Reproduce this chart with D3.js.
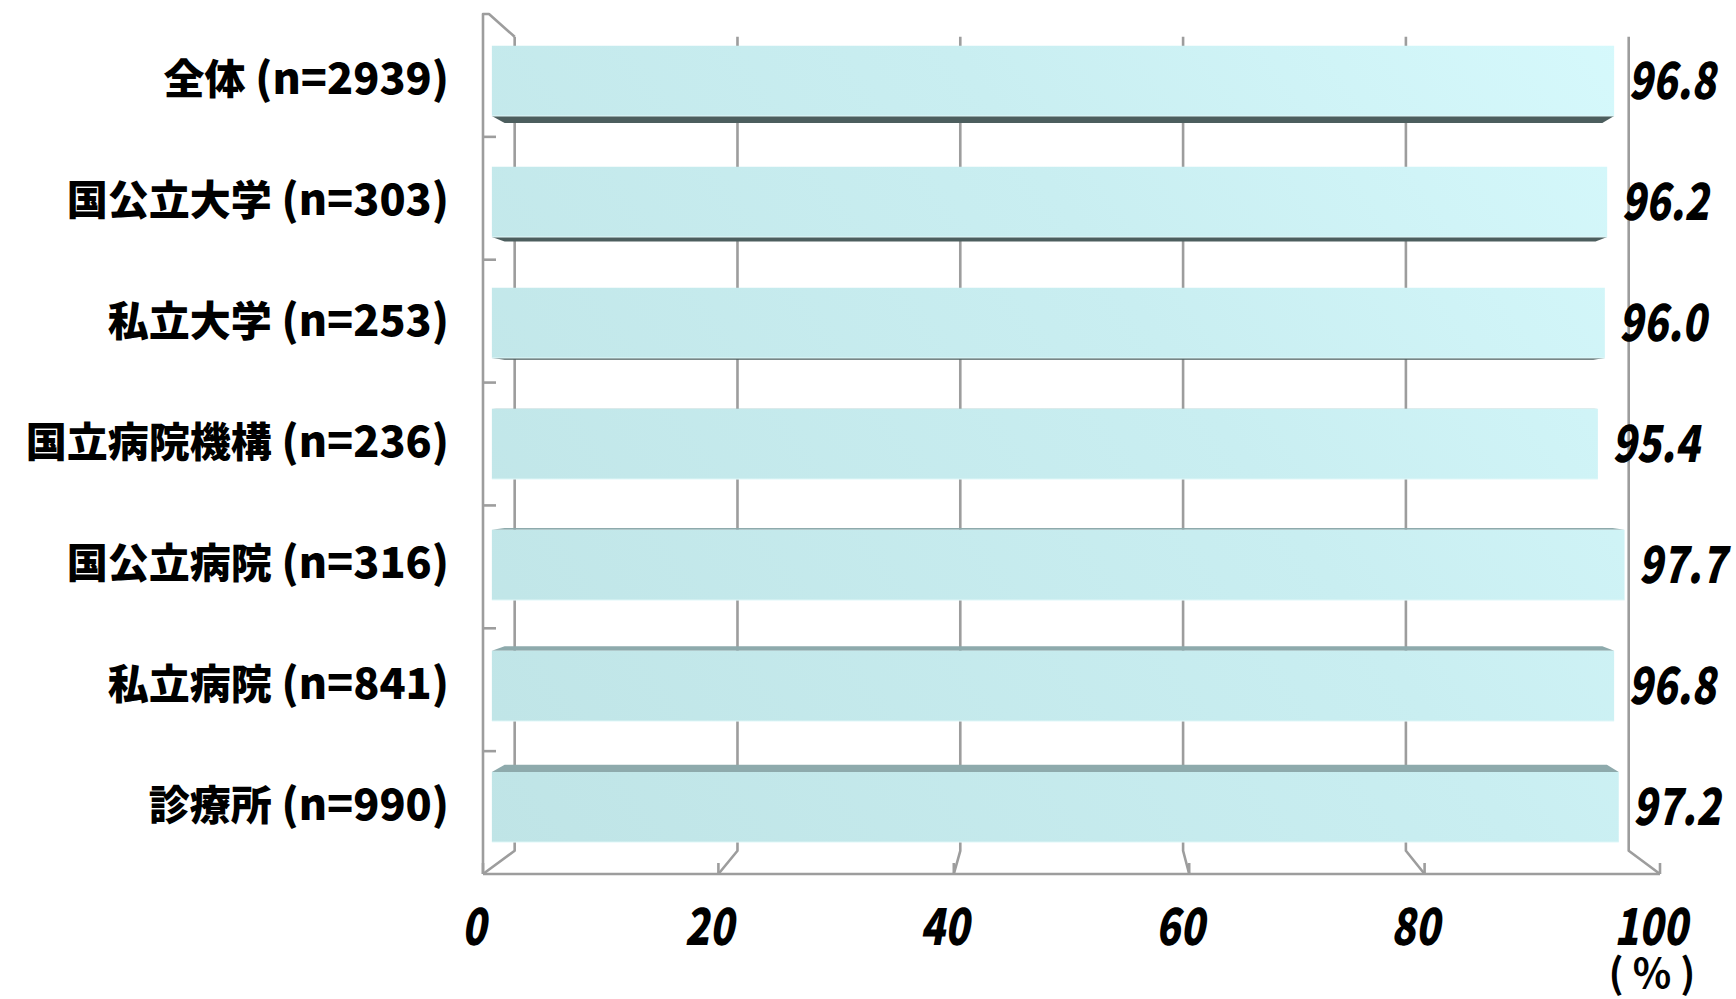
<!DOCTYPE html>
<html>
<head>
<meta charset="utf-8">
<script src="https://cdn.jsdelivr.net/npm/d3@7"></script>
<style>
  html, body { margin: 0; padding: 0; background: #ffffff; }
  svg { display: block; }
</style>
</head>
<body>
<svg id="chart" width="1736" height="999"></svg>
<script>
// Category names and sample sizes (top to bottom), share in percent, x-axis ticks
const categories = ["全体", "国公立大学", "私立大学", "国立病院機構", "国公立病院", "私立病院", "診療所"];
const sampleSizes = [2939, 303, 253, 236, 316, 841, 990];
const values = [96.8, 96.2, 96.0, 95.4, 97.7, 96.8, 97.2];
const xTicks = [0, 20, 40, 60, 80, 100];
const unitLabel = "( % )";

(function draw() {
  const svg = d3.select("#chart");

  // Front plane of the 3D box
  const x = d3.scaleLinear().domain([0, 100]).range([483, 1660]);
  const y = d3.scaleBand().domain(categories).range([14, 874])
    .paddingInner(0.42).paddingOuter(0.21);

  // Perspective: points recede toward a vanishing point
  const VP = [1075, 440];
  const depthWall = 0.0535;   // back wall
  const depthFront = 0.015;   // front face of bars
  const depthBack = 0.0365;   // back face of bars
  const proj = (px, py, t) => [px + (VP[0] - px) * t, py + (VP[1] - py) * t];

  const yTop = y.range()[0], yBottom = y.range()[1];
  const gridColor = "#9d9d9d";

  // Gradient for bar faces
  const defs = svg.append("defs");
  const grad = defs.append("linearGradient").attr("id", "barFill")
    .attr("gradientUnits", "userSpaceOnUse")
    .attr("x1", 490).attr("y1", 860).attr("x2", 1640).attr("y2", 40);
  grad.append("stop").attr("offset", 0).attr("stop-color", "#bfe4e6");
  grad.append("stop").attr("offset", 0.6).attr("stop-color", "#c9eef1");
  grad.append("stop").attr("offset", 1).attr("stop-color", "#d6f9fc");

  const grid = svg.append("g").attr("fill", "none").attr("stroke", gridColor)
    .attr("stroke-width", 2.6).attr("stroke-linejoin", "round");

  const line = d3.line();

  // Back-wall gridlines and floor diagonals for each tick
  xTicks.forEach(v => {
    const bt = proj(x(v), yTop, depthWall);
    const bb = proj(x(v), yBottom, depthWall);
    grid.append("path").attr("d", line([bt, bb, [x(v), yBottom]]));
    // small front tick on floor edge
    grid.append("path").attr("d", line([[x(v), yBottom - 11], [x(v), yBottom]]));
  });

  // Left wall: front edge and top diagonal
  grid.append("path").attr("d", line([proj(x(0), yTop, depthWall), [x(0) + 6, yTop], [x(0), yTop], [x(0), yBottom]]));
  // Floor front edge
  grid.append("path").attr("d", line([[x(0), yBottom], [x(100), yBottom]]));

  // Category ticks on the left wall at band boundaries
  const step = y.step();
  d3.range(1, categories.length).forEach(i => {
    const ty = yTop + i * step;
    grid.append("path").attr("d", line([[x(0), ty], [x(0) + 13, ty]]));
  });

  // Bars
  const bars = svg.append("g");
  categories.forEach((c, i) => {
    const v = values[i];
    const y0 = y(c), y1 = y(c) + y.bandwidth();
    const x0 = x(0), x1 = x(v);
    const fTL = proj(x0, y0, depthFront), fTR = proj(x1, y0, depthFront);
    const fBL = proj(x0, y1, depthFront), fBR = proj(x1, y1, depthFront);
    const bTL = proj(x0, y0, depthBack), bTR = proj(x1, y0, depthBack);
    const bBL = proj(x0, y1, depthBack), bBR = proj(x1, y1, depthBack);
    const mid = (y0 + y1) / 2;
    if (mid < VP[1]) {
      // underside visible
      bars.append("path").attr("d", line([fBL, fBR, bBR, bBL]) + "Z")
        .attr("fill", "#4c5e5e");
    } else {
      // upper side visible
      bars.append("path").attr("d", line([fTL, fTR, bTR, bTL]) + "Z")
        .attr("fill", "#8eaaac");
    }
    bars.append("path").attr("d", line([fTL, fTR, fBR, fBL]) + "Z")
      .attr("fill", "url(#barFill)");
    bars.append("path").attr("d", line([fBL, fBR]))
      .attr("stroke", "#e2f8f9").attr("stroke-width", 1).attr("fill", "none");
  });

  // Numeric text style: heavy, slanted, condensed
  const numFont = "'Noto Sans CJK JP', 'Noto Sans', sans-serif";
  function numText(g, txt, px, py, anchor) {
    g.append("g").attr("transform", `translate(${px},${py}) skewX(-10) scale(0.79,1)`)
      .append("text")
      .attr("text-anchor", anchor)
      .attr("font-family", numFont)
      .attr("font-weight", 900)
      .attr("font-size", 51)
      .attr("fill", "#000")
      .text(txt);
  }

  // Value labels at bar ends
  const valG = svg.append("g");
  categories.forEach((c, i) => {
    const v = values[i];
    const mid = y(c) + y.bandwidth() / 2;
    const end = proj(x(v), mid, depthFront);
    numText(valG, d3.format(".1f")(v), end[0] + 14, end[1] + 18, "start");
  });

  // Category labels with sample size
  const labels = svg.append("g").selectAll("text").data(categories).join("text")
    .attr("x", 449)
    .attr("y", d => proj(x(0), y(d) + y.bandwidth() / 2, depthFront)[1] + 13)
    .attr("text-anchor", "end")
    .attr("font-family", "'Noto Sans CJK JP', sans-serif")
    .attr("font-weight", 900)
    .attr("fill", "#000");
  labels.append("tspan").attr("font-size", 41).text(d => d);
  labels.append("tspan").attr("font-size", 43)
    .text((d, i) => ` (n=${sampleSizes[i]})`);

  // X-axis tick labels
  const axG = svg.append("g");
  xTicks.forEach(v => numText(axG, String(v), x(v) - 9, 945, "middle"));

  // Unit label
  svg.append("text")
    .attr("x", x(100) - 8).attr("y", 988)
    .attr("text-anchor", "middle")
    .attr("font-family", "'Noto Sans CJK JP', sans-serif")
    .attr("font-weight", 700)
    .attr("font-size", 40)
    .attr("fill", "#000")
    .text(unitLabel);
})();
</script>
</body>
</html>
